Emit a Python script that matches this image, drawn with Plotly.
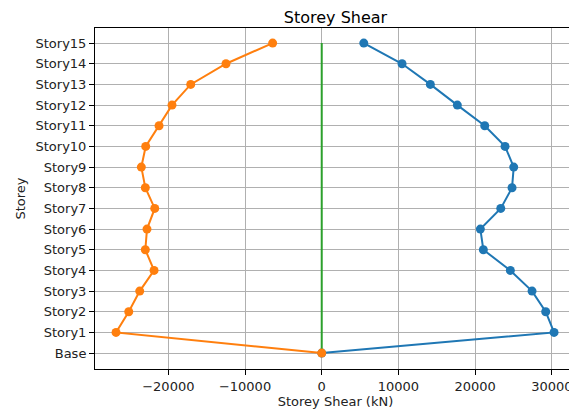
import plotly.graph_objects as go

storeys = ["Base", "Story1", "Story2", "Story3", "Story4", "Story5", "Story6", "Story7",
           "Story8", "Story9", "Story10", "Story11", "Story12", "Story13", "Story14", "Story15"]
shear_pos = [0, 30290, 29200, 27420, 24590, 21070, 20680, 23340,
             24810, 25030, 23900, 21250, 17680, 14160, 10470, 5480]
shear_neg = [0, -26820, -25160, -23730, -21860, -23000, -22780, -21770,
             -23000, -23520, -22950, -21210, -19520, -17080, -12480, -6400]
zero_line_x = [0, 0]
zero_line_y = ["Base", "Story15"]
x_ticks = [-20000, -10000, 0, 10000, 20000, 30000]
x_tick_labels = ["\u221220000", "\u221210000", "0", "10000", "20000", "30000"]

FONT = "DejaVu Sans"

fig = go.Figure()
fig.add_trace(go.Scatter(x=shear_pos, y=storeys, mode="lines+markers",
                         line=dict(color="#1f77b4", width=2),
                         marker=dict(color="#1f77b4", size=9), showlegend=False))
fig.add_trace(go.Scatter(x=zero_line_x, y=zero_line_y, mode="lines",
                         line=dict(color="#2ca02c", width=2), showlegend=False))
fig.add_trace(go.Scatter(x=shear_neg, y=storeys, mode="lines+markers",
                         line=dict(color="#ff7f0e", width=2),
                         marker=dict(color="#ff7f0e", size=9), showlegend=False))

fig.update_layout(
    width=569, height=402,
    margin=dict(l=87, r=1, t=20, b=41, autoexpand=False),
    paper_bgcolor="white", plot_bgcolor="white",
    font=dict(family=FONT, size=13, color="#222222"),
    title=dict(text="Storey Shear", x=0.5756, xanchor="center", y=1.0, yanchor="top",
               pad=dict(t=4, b=0), font=dict(family=FONT, size=16, color="black")),
)
fig.update_xaxes(
    range=[-29560, 33150], tickvals=x_ticks, ticktext=x_tick_labels,
    ticks="outside", ticklen=5, tickwidth=1, automargin=False,
    tickcolor="black", showline=True, linecolor="black", linewidth=1, mirror=True,
    showgrid=True, gridcolor="#b0b0b0", gridwidth=1, zeroline=False,
    tickfont=dict(family=FONT, size=13, color="#222222"),
    title=dict(text="Storey Shear (kN)", standoff=2, font=dict(family=FONT, size=13, color="#222222")),
)
fig.update_yaxes(
    type="category", categoryorder="array", categoryarray=storeys,
    range=[-0.77, 15.73], ticks="outside", ticklen=5, tickwidth=1, automargin=False,
    tickcolor="black", showline=True, linecolor="black", linewidth=1, mirror=True,
    showgrid=True, gridcolor="#b0b0b0", gridwidth=1, zeroline=False,
    tickfont=dict(family=FONT, size=13, color="#222222"),
    title=dict(text="Storey", standoff=6, font=dict(family=FONT, size=13, color="#222222")),
)

fig.write_html("out.html")
